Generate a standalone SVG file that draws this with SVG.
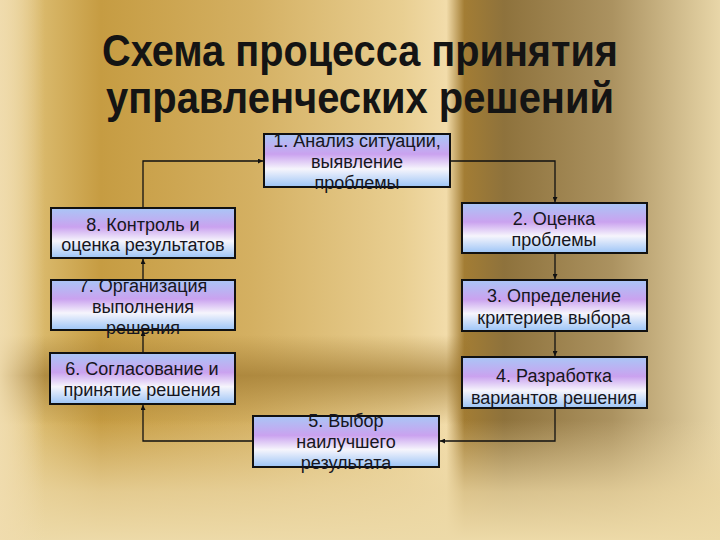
<svg xmlns="http://www.w3.org/2000/svg" width="720" height="540" viewBox="0 0 720 540">
<defs>
<linearGradient id="bgH" x1="0" y1="0" x2="1" y2="0">
<stop offset="0" stop-color="#ecd6a2"/>
<stop offset="0.06" stop-color="#d9b86a"/>
<stop offset="0.14" stop-color="#c69c42"/>
<stop offset="0.35" stop-color="#d4b062"/>
<stop offset="0.56" stop-color="#e9cf92"/>
<stop offset="0.62" stop-color="#f2dcaa"/>
<stop offset="0.645" stop-color="#a37d34"/>
<stop offset="0.7" stop-color="#8e723c"/>
<stop offset="0.85" stop-color="#ab9260"/>
<stop offset="1" stop-color="#e8d6a8"/>
</linearGradient>
<linearGradient id="bandV" x1="0" y1="0" x2="0" y2="1">
<stop offset="0" stop-color="#9a742c" stop-opacity="0"/>
<stop offset="0.45" stop-color="#9a742c" stop-opacity="0.65"/>
<stop offset="1" stop-color="#9a742c" stop-opacity="0"/>
</linearGradient>
<linearGradient id="bottomV" x1="0" y1="0" x2="0" y2="1">
<stop offset="0" stop-color="#ecd8a6" stop-opacity="0"/>
<stop offset="0.6" stop-color="#ebd6a2" stop-opacity="0.8"/>
<stop offset="1" stop-color="#eddaa8" stop-opacity="1"/>
</linearGradient>
<linearGradient id="leftH" x1="0" y1="0" x2="1" y2="0">
<stop offset="0" stop-color="#f0dcae" stop-opacity="0.9"/>
<stop offset="1" stop-color="#f0dcae" stop-opacity="0"/>
</linearGradient>
<linearGradient id="boxFill" x1="0" y1="0" x2="0" y2="1">
<stop offset="0" stop-color="#a9c6f6"/>
<stop offset="0.38" stop-color="#caa2ef"/>
<stop offset="0.66" stop-color="#f6f5fc"/>
<stop offset="1" stop-color="#9cc4f6"/>
</linearGradient>
<marker id="arr" viewBox="0 0 10 10" refX="10" refY="5" markerWidth="5" markerHeight="5" orient="auto" markerUnits="userSpaceOnUse">
<path d="M0,0 L10,5 L0,10 Z" fill="#111"/>
</marker>
</defs>
<style>
.box{fill:url(#boxFill);stroke:#111;stroke-width:2}
.lbl{font-family:"Liberation Sans",Arial,sans-serif;font-size:18px;fill:#161620;text-anchor:middle}
.title{font-family:"Liberation Sans",Arial,sans-serif;font-size:44px;font-weight:bold;fill:#141414;text-anchor:middle}
.conn{fill:none;stroke:#111;stroke-width:1.3}
</style>
<g id="background">
<rect x="0" y="0" width="720" height="540" fill="url(#bgH)"/>
<rect x="0" y="335" width="470" height="90" fill="url(#bandV)"/>
<rect x="0" y="420" width="720" height="120" fill="url(#bottomV)"/>
<rect x="0" y="0" width="45" height="540" fill="url(#leftH)"/>
</g>
<g id="title">
<text class="title" x="360" y="66" textLength="516" lengthAdjust="spacingAndGlyphs">Схема процесса принятия</text>
<text class="title" x="360" y="113" textLength="508" lengthAdjust="spacingAndGlyphs">управленческих решений</text>
</g>
<g id="connectors">
<path class="conn" d="M450,161 H555 V202" marker-end="url(#arr)"/>
<path class="conn" d="M555,253 V279" marker-end="url(#arr)"/>
<path class="conn" d="M555,331 V356" marker-end="url(#arr)"/>
<path class="conn" d="M555,408 V441 H440" marker-end="url(#arr)"/>
<path class="conn" d="M253,441 H143 V405" marker-end="url(#arr)"/>
<path class="conn" d="M143,353 V331" marker-end="url(#arr)"/>
<path class="conn" d="M143,280 V259" marker-end="url(#arr)"/>
<path class="conn" d="M143,208 V161 H263" marker-end="url(#arr)"/>
</g>
<g id="node1">
<rect class="box" x="264" y="134" width="186" height="53"/>
<text class="lbl" x="357" y="147">1. Анализ ситуации,</text>
<text class="lbl" x="357" y="168">выявление</text>
<text class="lbl" x="357" y="189">проблемы</text>
</g>
<g id="node2">
<rect class="box" x="462" y="203" width="185" height="50"/>
<text class="lbl" x="554" y="225">2. Оценка</text>
<text class="lbl" x="554" y="246">проблемы</text>
</g>
<g id="node3">
<rect class="box" x="462" y="280" width="185" height="51"/>
<text class="lbl" x="554" y="302">3. Определение</text>
<text class="lbl" x="554" y="324">критериев выбора</text>
</g>
<g id="node4">
<rect class="box" x="462" y="357" width="185" height="51"/>
<text class="lbl" x="554" y="382">4. Разработка</text>
<text class="lbl" x="554" y="404">вариантов решения</text>
</g>
<g id="node5">
<rect class="box" x="253" y="416" width="186" height="51"/>
<text class="lbl" x="346" y="427">5. Выбор</text>
<text class="lbl" x="346" y="448">наилучшего</text>
<text class="lbl" x="346" y="469">результата</text>
</g>
<g id="node6">
<rect class="box" x="50" y="353" width="185" height="51"/>
<text class="lbl" x="142" y="375">6. Согласование и</text>
<text class="lbl" x="142" y="396">принятие решения</text>
</g>
<g id="node7">
<rect class="box" x="51" y="280" width="184" height="50"/>
<text class="lbl" x="143" y="292">7. Организация</text>
<text class="lbl" x="143" y="313">выполнения</text>
<text class="lbl" x="143" y="334">решения</text>
</g>
<g id="node8">
<rect class="box" x="51" y="208" width="184" height="50"/>
<text class="lbl" x="143" y="231">8. Контроль и</text>
<text class="lbl" x="143" y="251">оценка результатов</text>
</g>
</svg>
